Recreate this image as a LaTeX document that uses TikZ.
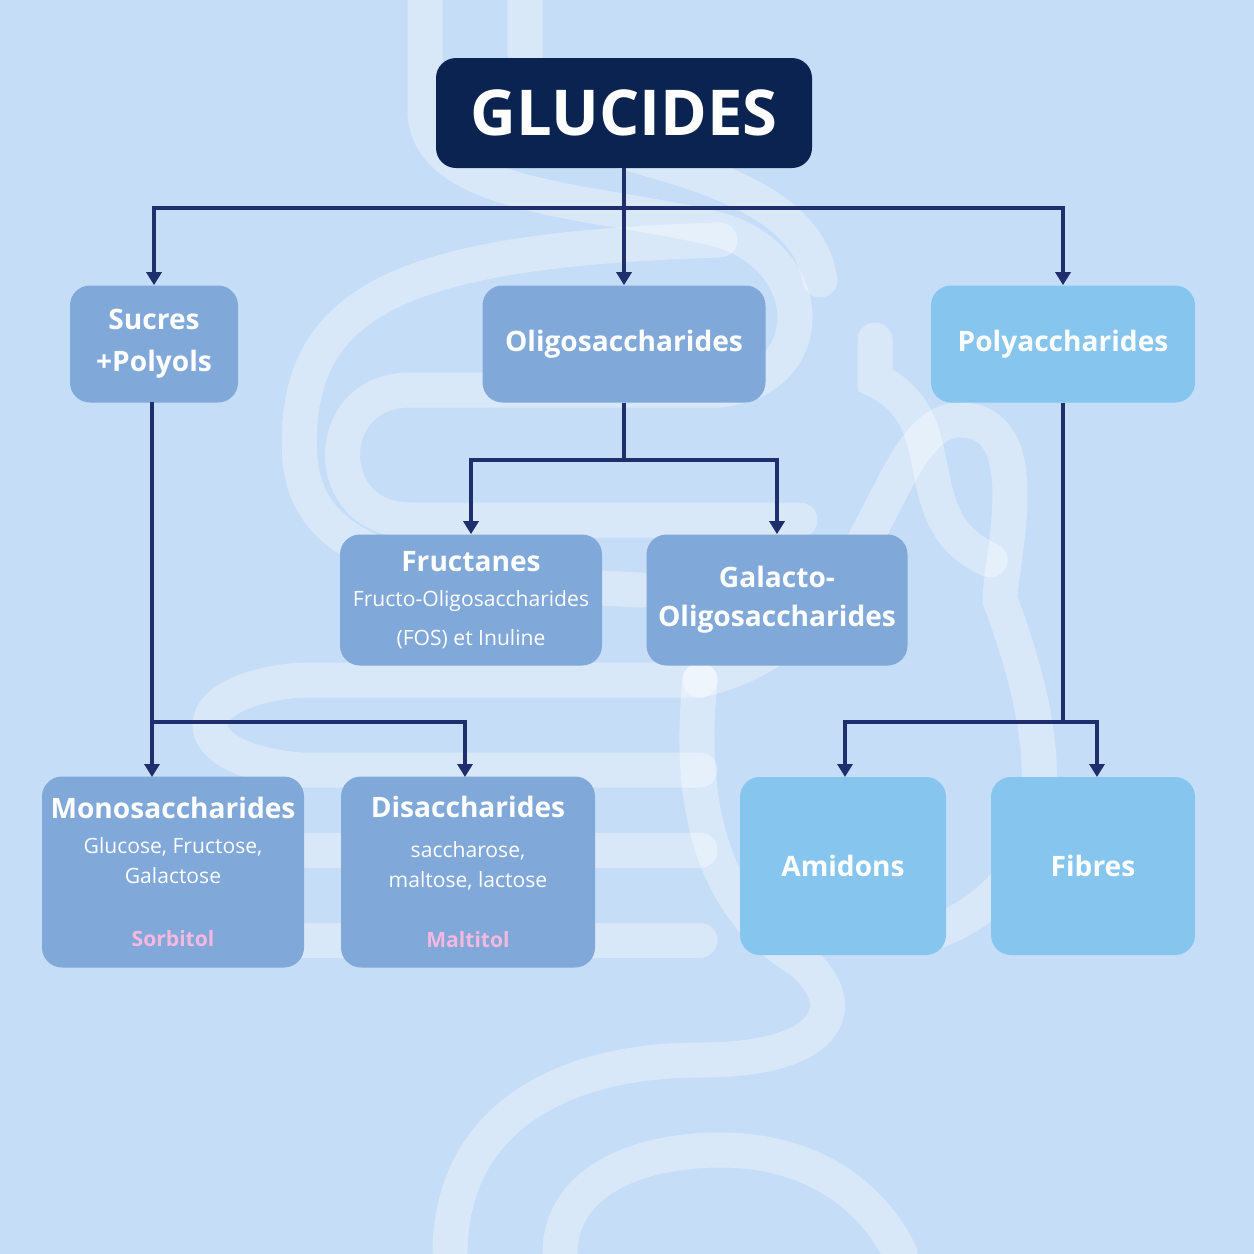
\documentclass[tikz,border=0pt]{standalone}
\usepackage{fontspec}
\setmainfont{Open Sans}
\usetikzlibrary{arrows.meta}
\definecolor{bgblue}{HTML}{C5DDF7}
\definecolor{navy}{HTML}{0B2350}
\definecolor{midblue}{HTML}{80A8D8}
\definecolor{skyblue}{HTML}{86C5EE}
\definecolor{linkblue}{HTML}{1F2F6E}
\definecolor{polyol}{HTML}{F6B8DE}
\newcommand\subtxt{\mdseries\fontsize{12}{17}\selectfont}
\newcommand\polytxt{\bfseries\fontsize{12}{16}\selectfont\color{polyol}}
\tikzset{
  box/.style={rounded corners=4mm, fill=midblue, text=white, align=flush center,
    inner sep=0pt, font=\fontsize{16}{22}\selectfont\bfseries},
  sky/.style={box, fill=skyblue},
  size/.style 2 args={minimum width=#1*0.2mm, minimum height=#2*0.2mm, text width=#1*0.2mm-2mm},
  link/.style={draw=linkblue, line width=0.65mm, -{Triangle[length=2.6mm,width=3mm]}},
  gut/.style={draw=white, opacity=0.35, line width=7mm, line cap=round}
}
\begin{document}
\begin{tikzpicture}[x=0.2mm, y=-0.2mm]
  % background
  \fill[bgblue] (0,0) rectangle (1254,1254);
  \useasboundingbox (0,0) rectangle (1254,1254);
  % intestine outline
  \draw[gut] (425,0) -- (425,110) .. controls (425,200) and (600,200) .. (720,230)
    .. controls (820,260) and (820,380) .. (720,390) -- (410,390)
    .. controls (320,390) and (320,520) .. (410,520) -- (800,520);
  \draw[gut] (525,0) -- (525,100) .. controls (525,160) and (800,150) .. (820,280);
  \draw[gut] (720,240) .. controls (400,250) and (290,300) .. (300,460)
    .. controls (310,560) and (420,580) .. (640,590);
  \draw[gut] (700,680) -- (300,680) .. controls (180,690) and (180,760) .. (300,770) -- (700,770);
  \draw[gut] (700,850) -- (300,850);
  \draw[gut] (700,940) -- (300,940);
  \draw[gut] (700,680) .. controls (880,640) and (880,420) .. (960,420)
    .. controls (1040,420) and (1000,560) .. (1000,600)
    .. controls (1060,760) and (1060,880) .. (940,930);
  \draw[gut] (875,340) -- (875,380) .. controls (960,420) and (900,520) .. (990,560);
  \draw[gut] (700,680) .. controls (690,780) and (700,900) .. (800,960)
    .. controls (850,1000) and (840,1060) .. (700,1060)
    .. controls (560,1060) and (450,1120) .. (450,1254);
  \draw[gut] (560,1254) .. controls (560,1180) and (640,1150) .. (720,1150)
    .. controls (860,1150) and (900,1254) .. (900,1254);
  % nodes
  \node[box, fill=navy, size={376}{110},
    font=\fontsize{36}{40}\selectfont\bfseries] (glucides) at (624,113) {GLUCIDES};
  \node[box, size={168}{117}] (sucres) at (154,344) {Sucres\\[2pt]+Polyols};
  \node[box, size={283}{117}] (oligo) at (624,344) {Oligosaccharides};
  \node[sky, size={264}{117}] (poly) at (1063,344) {Polyaccharides};
  \node[box, size={262}{131}] (fructanes) at (471,600)
    {Fructanes\\[3pt]\subtxt Fructo-Oligosaccharides\\(FOS) et Inuline};
  \node[box, size={261}{131}] (galacto) at (777,600) {Galacto-\\Oligosaccharides};
  \node[box, size={262}{191}] (mono) at (173,872)
    {Monosaccharides\\[3pt]\subtxt Glucose, Fructose,\\Galactose\\[14pt]\polytxt Sorbitol};
  \node[box, size={254}{191}] (di) at (468,872)
    {Disaccharides\\[6pt]\subtxt saccharose,\\maltose, lactose\\[12pt]\polytxt Maltitol};
  \node[sky, size={206}{178}] (amidons) at (843,866) {Amidons};
  \node[sky, size={204}{178}] (fibres) at (1093,866) {Fibres};
  % links
  \coordinate (top) at (624,208);
  \draw[link] (glucides.south) -- (oligo.north);
  \draw[link] (top) -| (sucres.north);
  \draw[link] (top) -| (poly.north);
  \coordinate (mid) at (624,460);
  \draw[draw=linkblue, line width=0.65mm] (oligo.south) -- (mid);
  \draw[link] (mid) -| (fructanes.north);
  \draw[link] (mid) -| (galacto.north);
  \coordinate (left) at (152,722);
  \coordinate (sucresout) at (152,402);
  \coordinate (monoin) at (152,777);
  \coordinate (diin) at (465,777);
  \draw[link] (sucresout) -- (monoin);
  \draw[link] (left) -| (diin);
  \coordinate (right) at (1063,722);
  \coordinate (amidonsin) at (845,777);
  \coordinate (fibresin) at (1097,777);
  \draw[draw=linkblue, line width=0.65mm] (poly.south) -- (right);
  \draw[link] (right) -| (amidonsin);
  \draw[link] (right) -| (fibresin);
\end{tikzpicture}
\end{document}
